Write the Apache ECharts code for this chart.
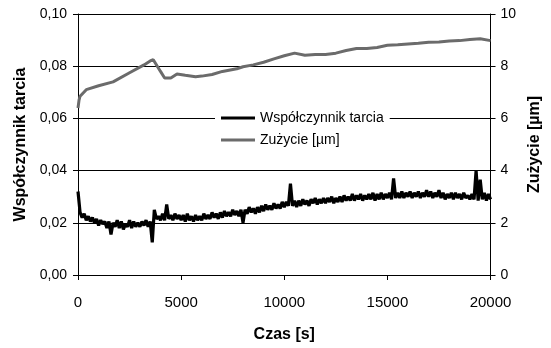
<!DOCTYPE html>
<html>
<head>
<meta charset="utf-8">
<script src="https://cdn.jsdelivr.net/npm/echarts@6/dist/echarts.min.js"></script>
<style>
  html, body { margin: 0; padding: 0; background: #fff; }
  #chart { width: 551px; height: 348px; }
</style>
</head>
<body>
<div id="chart"></div>
<script>
// Współczynnik tarcia - odczyt co 100 s (0 ... 20000 s)
const frictionStep = 100
const friction = [
  0.032, 0.024, 0.022, 0.0235, 0.021, 0.0225, 0.0205, 0.022, 0.020, 0.0215,
  0.019, 0.021, 0.0195, 0.0205, 0.018, 0.0205, 0.0155, 0.020, 0.0185, 0.021,
  0.018, 0.0205, 0.0175, 0.0195, 0.0185, 0.021, 0.018, 0.0205, 0.0185, 0.020,
  0.0185, 0.0205, 0.019, 0.021, 0.0185, 0.0205, 0.0125, 0.025, 0.0215, 0.0225,
  0.021, 0.0235, 0.021, 0.027, 0.0215, 0.023, 0.021, 0.0235, 0.0215, 0.023,
  0.021, 0.023, 0.0205, 0.0235, 0.021, 0.0225, 0.0205, 0.023, 0.021, 0.0225,
  0.021, 0.0235, 0.0215, 0.023, 0.0215, 0.024, 0.022, 0.0235, 0.0215, 0.024,
  0.022, 0.0245, 0.0225, 0.024, 0.0225, 0.025, 0.023, 0.0245, 0.0225, 0.025,
  0.020, 0.025, 0.0235, 0.026, 0.024, 0.0255, 0.0235, 0.026, 0.024, 0.0265,
  0.0245, 0.027, 0.025, 0.0265, 0.025, 0.0275, 0.0255, 0.027, 0.0255, 0.028,
  0.026, 0.028, 0.0265, 0.035, 0.0265, 0.0285, 0.026, 0.0285, 0.0265, 0.029,
  0.027, 0.0285, 0.0265, 0.029, 0.0275, 0.0295, 0.027, 0.029, 0.0275, 0.0295,
  0.0275, 0.0295, 0.028, 0.030, 0.0275, 0.0295, 0.028, 0.030, 0.028, 0.0305,
  0.0285, 0.030, 0.0285, 0.031, 0.0285, 0.0305, 0.029, 0.031, 0.0285, 0.0305,
  0.029, 0.031, 0.029, 0.0315, 0.0285, 0.031, 0.029, 0.0315, 0.029, 0.031,
  0.0295, 0.0315, 0.029, 0.037, 0.0295, 0.0315, 0.0295, 0.032, 0.0295, 0.0315,
  0.030, 0.032, 0.0295, 0.0315, 0.030, 0.032, 0.0295, 0.0315, 0.030, 0.0325,
  0.030, 0.032, 0.0295, 0.0315, 0.030, 0.0325, 0.0295, 0.0315, 0.029, 0.031,
  0.0295, 0.0315, 0.029, 0.0315, 0.0295, 0.031, 0.029, 0.0315, 0.0295, 0.0305,
  0.029, 0.031, 0.029, 0.040, 0.0285, 0.0365, 0.029, 0.0315, 0.0285, 0.031,
  0.029
]

// Zużycie [µm]
const wearTime = [
  0, 50, 100, 400, 1000, 1700, 2500, 3200, 3500, 3650,
  4000, 4200, 4500, 4800, 5200, 5700, 6000, 6500, 7000, 7700,
  8000, 8500, 9000, 9500, 10000, 10500, 11000, 11500, 12000, 12500,
  13000, 13500, 14000, 14500, 15000, 15500, 16000, 16500, 17000, 17500,
  18000, 18500, 19000, 19500, 20000
]
const wear = [
  6.4, 6.7, 6.85, 7.1, 7.25, 7.4, 7.75, 8.05, 8.2, 8.25,
  7.8, 7.55, 7.55, 7.7, 7.65, 7.6, 7.62, 7.68, 7.8, 7.9,
  7.98, 8.05, 8.15, 8.28, 8.4, 8.5, 8.42, 8.45, 8.45, 8.5,
  8.6, 8.68, 8.68, 8.72, 8.8, 8.82, 8.85, 8.88, 8.92, 8.93,
  8.97, 8.98, 9.02, 9.05, 8.98
]

const font = "'Liberation Sans', Arial, sans-serif"

const chart = echarts.init(document.getElementById('chart'))

const option = {
  animation: false,
  backgroundColor: '#fff',
  textStyle: { fontFamily: font },
  grid: { left: 78, right: 54, top: 14, bottom: 66 },
  legend: {
    orient: 'vertical',
    left: 215,
    top: 106,
    backgroundColor: '#fff',
    padding: [5, 6, 5, 6],
    icon: 'rect',
    itemWidth: 34,
    itemHeight: 3,
    itemGap: 8,
    textStyle: { fontFamily: font, fontSize: 14, color: '#000' },
    data: ['Współczynnik tarcia', 'Zużycie [µm]']
  },
  xAxis: {
    type: 'value',
    min: 0,
    max: 20000,
    interval: 5000,
    name: 'Czas [s]',
    nameLocation: 'middle',
    nameGap: 52,
    nameTextStyle: { fontFamily: font, fontSize: 16, fontWeight: 'bold', color: '#000' },
    axisLine: { lineStyle: { color: '#000', width: 1 } },
    axisTick: { show: true, inside: false, length: 5, lineStyle: { color: '#000' } },
    axisLabel: { margin: 20, fontSize: 15, color: '#000', fontFamily: font, formatter: v => String(v) },
    splitLine: { show: false }
  },
  yAxis: [
    {
      type: 'value',
      min: 0,
      max: 0.1,
      interval: 0.02,
      name: 'Współczynnik tarcia',
      nameLocation: 'middle',
      nameGap: 48,
      nameRotate: 90,
      nameTextStyle: { fontFamily: font, fontSize: 16, fontWeight: 'bold', color: '#000' },
      axisLine: { show: true, lineStyle: { color: '#000', width: 1 } },
      axisTick: { show: true, inside: false, length: 5, lineStyle: { color: '#000' } },
      axisLabel: {
        margin: 11,
        fontSize: 14,
        color: '#000',
        fontFamily: font,
        formatter: v => v.toFixed(2).replace('.', ',')
      },
      splitLine: { show: true, lineStyle: { color: '#000', width: 1 } }
    },
    {
      type: 'value',
      position: 'right',
      min: 0,
      max: 10,
      interval: 2,
      name: 'Zużycie [µm]',
      nameLocation: 'middle',
      nameGap: 36,
      nameRotate: 90,
      nameTextStyle: { fontFamily: font, fontSize: 16, fontWeight: 'bold', color: '#000' },
      axisLine: { show: true, lineStyle: { color: '#000', width: 1 } },
      axisTick: { show: true, inside: false, length: 5, lineStyle: { color: '#000' } },
      axisLabel: { margin: 10, fontSize: 14, color: '#000', fontFamily: font },
      splitLine: { show: false }
    }
  ],
  series: [
    {
      name: 'Współczynnik tarcia',
      type: 'line',
      yAxisIndex: 0,
      symbol: 'none',
      color: '#000',
      lineStyle: { color: '#000', width: 3.2 },
      data: friction.map((v, i) => [i * frictionStep, v])
    },
    {
      name: 'Zużycie [µm]',
      type: 'line',
      yAxisIndex: 1,
      symbol: 'none',
      color: '#6b6b6b',
      lineStyle: { color: '#6b6b6b', width: 3 },
      data: wearTime.map((t, i) => [t, wear[i]])
    }
  ]
}

chart.setOption(option)
</script>
</body>
</html>
